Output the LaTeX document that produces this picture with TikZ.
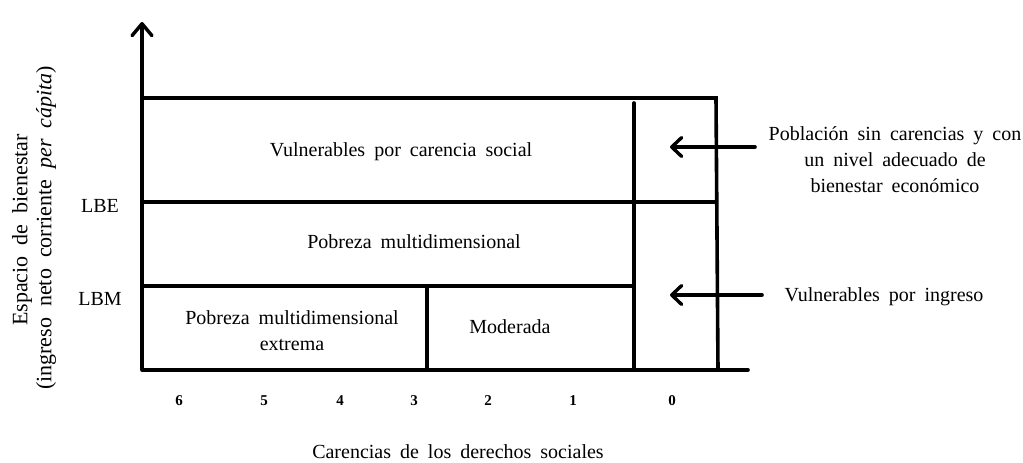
\documentclass[tikz,border=0pt]{standalone}
\usepackage{fontspec}
\setmainfont{Liberation Serif}
\usetikzlibrary{arrows.meta}
\newcommand{\mywidesp}{\spaceskip=0.45em plus 0.1em\relax}
\newcommand{\mylblfont}{\fontsize{20}{26}\selectfont\mywidesp}
\newcommand{\myylblfont}{\fontsize{22}{24}\selectfont\spaceskip=0.5em plus 0.1em\relax}
\begin{document}
\begin{tikzpicture}[x=1pt,y=-1pt,
  frame/.style={line width=3.6pt, line cap=round},
  lbl/.style={font=\mylblfont, inner sep=0pt, align=center},
  ylbl/.style={font=\myylblfont, inner sep=0pt, rotate=90},
  num/.style={font=\fontsize{15}{17}\selectfont\bfseries, inner sep=0pt},
  pointer/.style={line width=3.6pt, line cap=round, -{Straight Barb[length=10pt,width=19pt,line width=3.4pt,round]}},
  axisarrow/.style={line width=3.6pt, -{Straight Barb[length=12pt,width=20pt,line width=3.4pt,round]}}
]
\useasboundingbox (0,0) rectangle (1023,463);
% frame coordinates
\coordinate (O) at (142,370);
\coordinate (Ytop) at (142,22);
\coordinate (Xend) at (748,370);
\coordinate (TL) at (142,98);
\coordinate (TR) at (716,98);
\coordinate (BR) at (718,370);
\coordinate (Vt) at (634,103);
\coordinate (Vb) at (634,370);
\coordinate (LBEl) at (142,202);
\coordinate (LBEr) at (716,202);
\coordinate (LBMl) at (142,286);
\coordinate (LBMr) at (634,286);
\coordinate (Mt) at (427,286);
\coordinate (Mb) at (427,370);
% axes
\draw[axisarrow] (O) -- (Ytop);
\draw[frame] (O) -- (Xend);
% boxes
\draw[frame] (TL) -- (TR) -- (BR);
\draw[frame] (Vt) -- (Vb);
\draw[frame] (LBEl) -- (LBEr);
\draw[frame] (LBMl) -- (LBMr);
\draw[frame] (Mt) -- (Mb);
% region texts
\node[lbl] (vcs) at (401,152) {Vulnerables por carencia social};
\node[lbl] (pm) at (414,242) {Pobreza multidimensional};
\node[lbl] (pme) at (292,331) {Pobreza multidimensional\\extrema};
\node[lbl] (mod) at (510,327) {Moderada};
\node[lbl] (lbe) at (100,206) {LBE};
\node[lbl] (lbm) at (100,299) {LBM};
% right labels and pointers
\node[lbl] (psc) at (895,160) {Población sin carencias y con\\un nivel adecuado de\\bienestar económico};
\node[lbl] (vpi) at (884,297) {Vulnerables por ingreso};
\coordinate (a1s) at (755,147);
\coordinate (a1e) at (670,147);
\coordinate (a2s) at (762,295);
\coordinate (a2e) at (670,295);
\draw[pointer] (a1s) -- (a1e);
\draw[pointer] (a2s) -- (a2e);
% numbers
\node[num] (n6) at (179,401) {6};
\node[num] (n5) at (264,401) {5};
\node[num] (n4) at (340,401) {4};
\node[num] (n3) at (414,401) {3};
\node[num] (n2) at (488,401) {2};
\node[num] (n1) at (573,401) {1};
\node[num] (n0) at (672,401) {0};
% axis titles
\node[lbl] (xlab) at (458,452) {Carencias de los derechos sociales};
\node[ylbl] (ylab1) at (22,230) {Espacio de bienestar};
\node[ylbl] (ylab2) at (46,228) {(ingreso neto corriente \textit{per cápita})};
\end{tikzpicture}
\end{document}
